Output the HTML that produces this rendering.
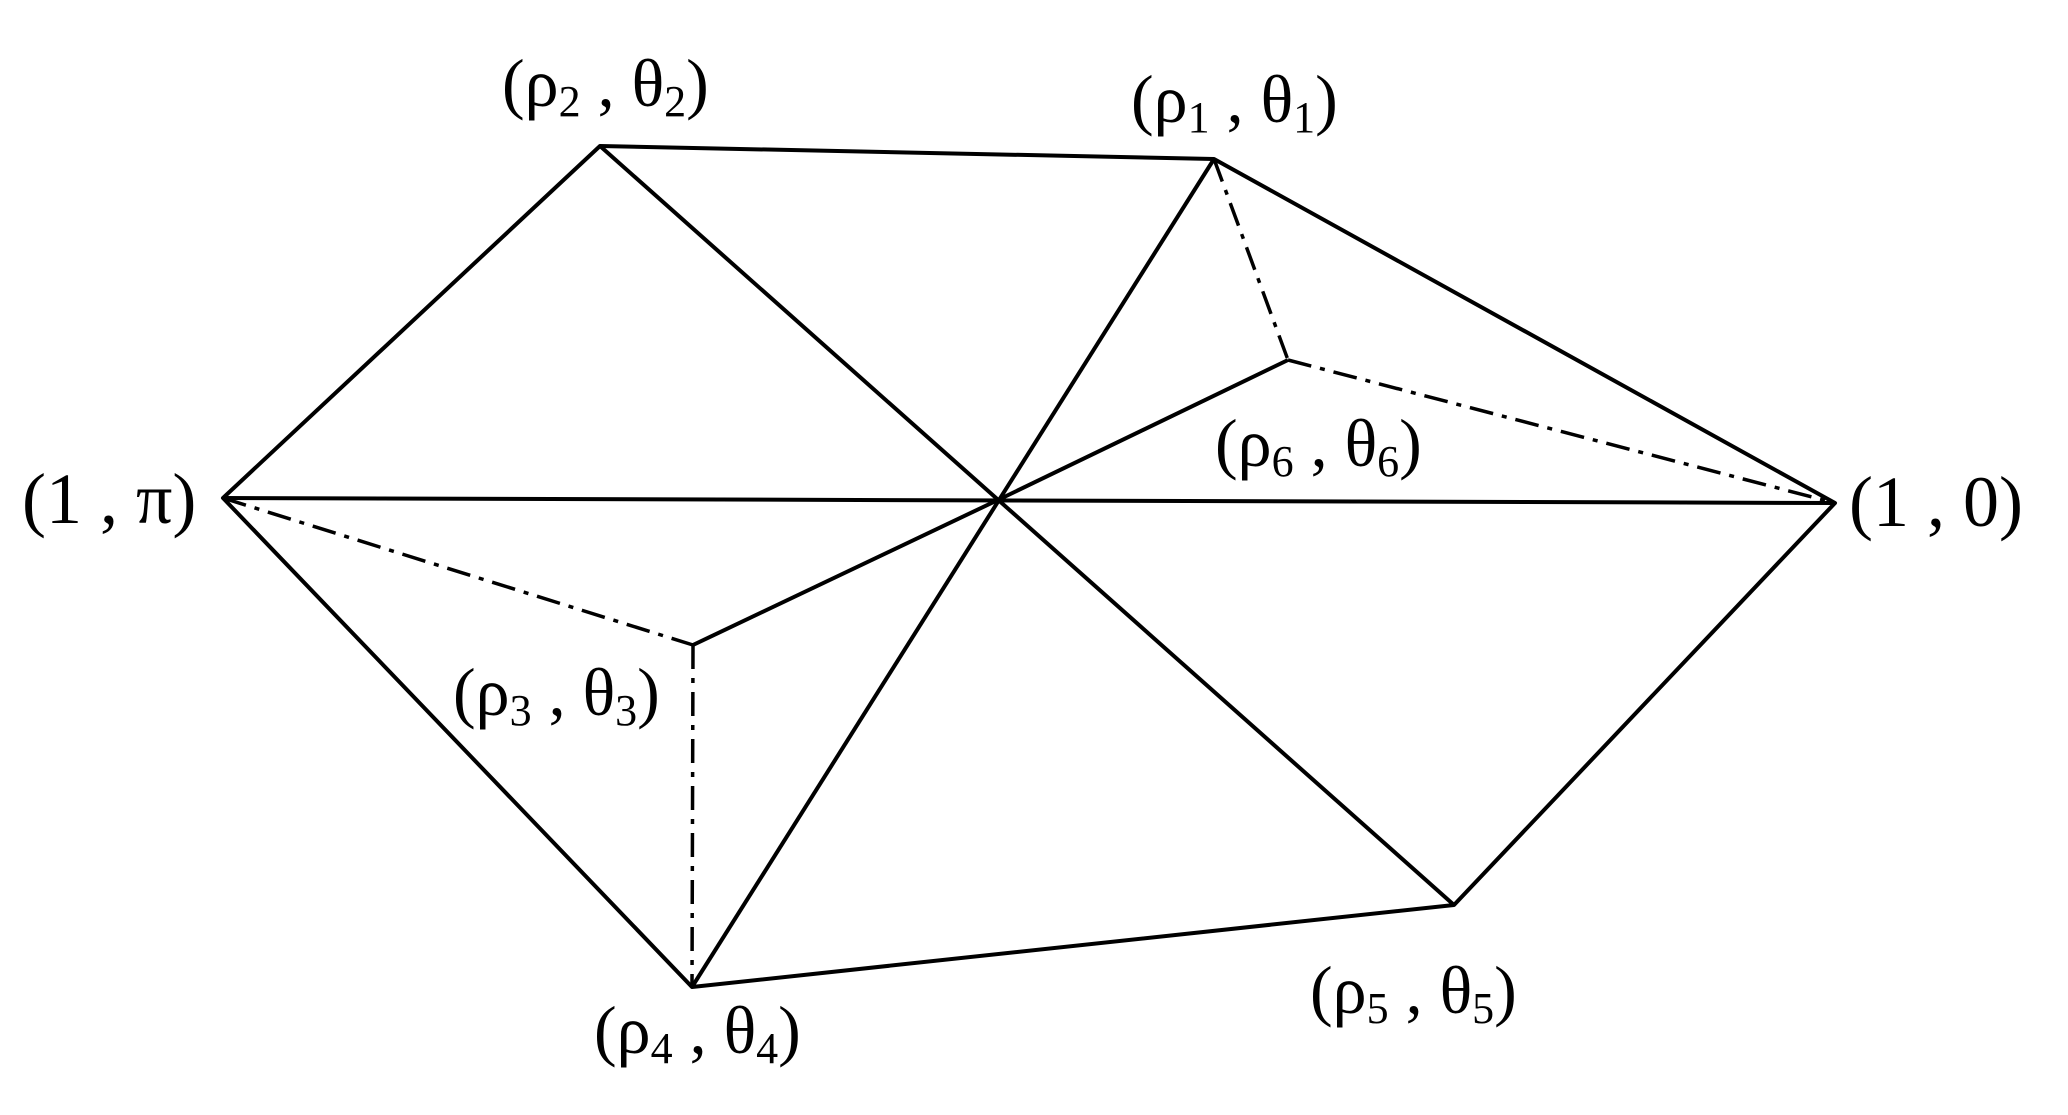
<!DOCTYPE html>
<html><head><style>
html,body{margin:0;padding:0;background:#fff;}
svg text{font-family:"Liberation Serif",serif;font-size:68px;fill:#000;}
.s{font-size:44px;}
</style></head><body>
<svg width="2068" height="1110" viewBox="0 0 2068 1110" xmlns="http://www.w3.org/2000/svg">
<g stroke="#000" stroke-width="4" fill="none" stroke-linejoin="round">
<polygon points="223,498 600,146 1214,159 1835,503 1454,905 692,987"/>
<line x1="223" y1="498" x2="1835" y2="503"/>
<line x1="600" y1="146" x2="1454" y2="905"/>
<line x1="1214" y1="159" x2="692" y2="987"/>
<line x1="1000" y1="499" x2="1288" y2="360"/>
<line x1="1000" y1="499" x2="693" y2="645"/>
</g>
<g stroke="#000" stroke-width="3.5" fill="none" stroke-dasharray="24,9,5,9">
<line x1="1214" y1="159" x2="1288" y2="360"/>
<line x1="1288" y1="360" x2="1835" y2="503"/>
<line x1="223" y1="498" x2="693" y2="645"/>
<line x1="693" y1="645" x2="692" y2="987"/>
</g>
<text x="502" y="106">(ρ<tspan class="s" dy="10">2</tspan><tspan dy="-10"> , θ</tspan><tspan class="s" dy="10">2</tspan><tspan dy="-10">)</tspan></text>
<text x="1131" y="122">(ρ<tspan class="s" dy="10">1</tspan><tspan dy="-10"> , θ</tspan><tspan class="s" dy="10">1</tspan><tspan dy="-10">)</tspan></text>
<text x="1215" y="466">(ρ<tspan class="s" dy="10">6</tspan><tspan dy="-10"> , θ</tspan><tspan class="s" dy="10">6</tspan><tspan dy="-10">)</tspan></text>
<text x="453" y="715">(ρ<tspan class="s" dy="10">3</tspan><tspan dy="-10"> , θ</tspan><tspan class="s" dy="10">3</tspan><tspan dy="-10">)</tspan></text>
<text x="594" y="1053">(ρ<tspan class="s" dy="10">4</tspan><tspan dy="-10"> , θ</tspan><tspan class="s" dy="10">4</tspan><tspan dy="-10">)</tspan></text>
<text x="1310" y="1013">(ρ<tspan class="s" dy="10">5</tspan><tspan dy="-10"> , θ</tspan><tspan class="s" dy="10">5</tspan><tspan dy="-10">)</tspan></text>
<text x="22" y="523" style="font-size:72px">(1 , π)</text>
<text x="1849" y="526" style="font-size:72px">(1 , 0)</text>
</svg>
</body></html>
